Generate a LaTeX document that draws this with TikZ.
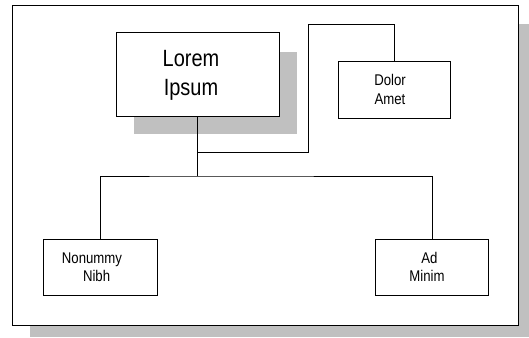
\documentclass[tikz,border=0pt]{standalone}
\usepackage{fontspec}
\setmainfont{Liberation Sans}[FakeStretch=0.85]
\begin{document}
\begin{tikzpicture}[x=1pt,y=-1pt,
  box/.style={draw=black, line width=1pt, fill=white, inner sep=0pt},
  conn/.style={draw=black, line width=0.9pt},
  bigtxt/.style={anchor=base, inner sep=0pt, font=\fontsize{23.5}{29}\selectfont},
  smalltxt/.style={anchor=base, inner sep=0pt, font=\fontsize{15.5}{18.5}\selectfont}]
\useasboundingbox (0,0) rectangle (529,337);
\definecolor{shadowgray}{RGB}{192,192,192}
% page shadow and frame
\fill[shadowgray] (30,24) rectangle (529,337);
\node[box, minimum width=506pt, minimum height=319pt] (frame) at (265,165.5) {};
% main box shadow and box
\fill[shadowgray] (134,52) rectangle (297,134);
\node[box, minimum width=163pt, minimum height=83pt] (main) at (197.5,74.5) {};
\node[bigtxt] (mainA) at (191,66.8) {Lorem};
\node[bigtxt] (mainB) at (191,95.5) {Ipsum};
% other boxes
\node[box, minimum width=112pt, minimum height=57pt] (dolor) at (394,89.5) {};
\node[smalltxt] (dolorA) at (390,85.4) {Dolor};
\node[smalltxt] (dolorB) at (390,104) {Amet};
\node[box, minimum width=114pt, minimum height=56pt] (non) at (100,267) {};
\node[smalltxt] (nonA) at (92,263.2) {Nonummy};
\node[smalltxt] (nonB) at (96.6,281.7) {Nibh};
\node[box, minimum width=113.5pt, minimum height=56pt] (ad) at (432,267) {};
\node[smalltxt] (adA) at (429.5,263.2) {Ad};
\node[smalltxt] (adB) at (427,281.7) {Minim};
% connectors
\coordinate (j1) at (197.5,152);
\coordinate (j2) at (197.5,176);
\coordinate (r1) at (308,152);
\coordinate (r2) at (308,24);
\coordinate (r3) at (394,24);
\draw[conn, line width=1.2pt] (main.south) -- (j2);
\draw[conn] (j1) -- (r1) -- (r2) -- (r3) -- (dolor.north);
\draw[conn] (non.north) |- (j2) -| (ad.north);
\end{tikzpicture}
\end{document}
